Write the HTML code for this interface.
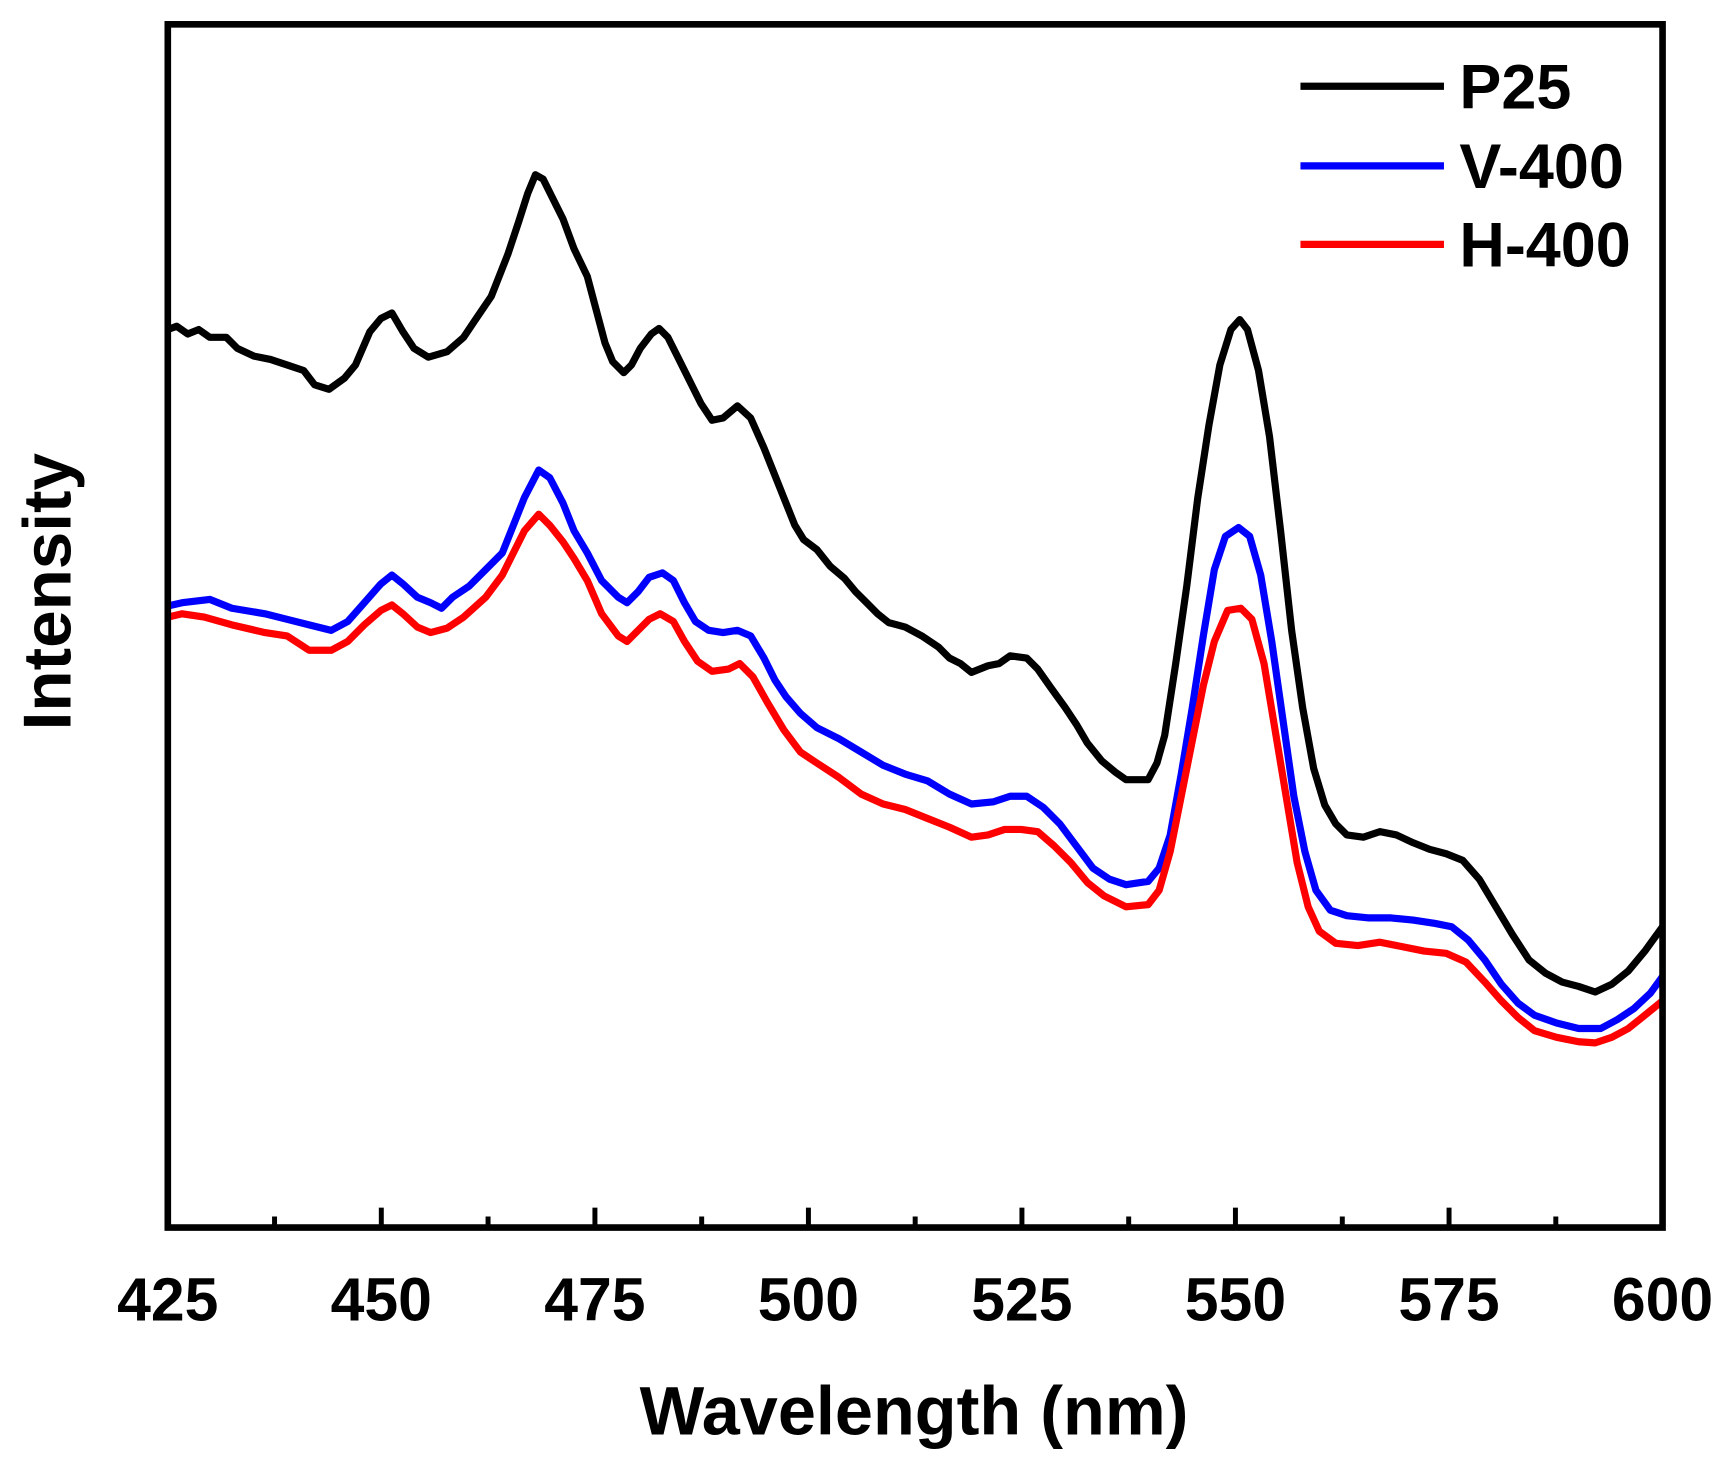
<!DOCTYPE html>
<html><head><style>html,body{margin:0;padding:0;background:#fff}svg{display:block}</style></head><body>
<svg width="1731" height="1462" viewBox="0 0 1568 1322" preserveAspectRatio="none" xmlns="http://www.w3.org/2000/svg" font-family="Liberation Sans, Arial, sans-serif" font-weight="bold">
<rect width="1568" height="1322" fill="#fff"/>
<g fill="none" stroke-width="6.5" stroke-linejoin="round">
<polyline stroke="#000" points="152,298 160,295 170,302 180,298 190,305 205,305 215,315 230,322 245,325 260,330 275,335 285,348 298,352 312,342 322,330 335,300 345,288 355,283 365,300 375,315 388,323 405,318 420,305 430,290 445,268 460,230 470,200 478,175 485,158 492,162 500,178 510,198 520,225 532,250 540,280 548,310 555,327 565,337 572,330 580,315 590,302 597,297 605,305 615,325 625,345 635,365 645,380 655,378 668,367 680,378 692,405 700,425 710,450 720,475 728,488 740,497 752,512 765,523 775,535 785,545 795,555 805,563 820,567 835,575 850,585 860,595 870,600 880,608 895,602 905,600 915,593 930,595 940,605 952,622 965,640 975,655 985,672 998,688 1010,698 1020,705 1030,705 1040,705 1048,690 1055,665 1065,600 1075,530 1085,450 1095,385 1105,330 1115,298 1123,289 1130,298 1140,335 1150,395 1160,480 1170,570 1180,640 1190,695 1200,728 1210,745 1220,755 1235,757 1250,752 1265,755 1280,762 1295,768 1310,772 1325,778 1340,795 1355,820 1370,845 1385,868 1400,880 1415,888 1430,892 1445,897 1460,890 1475,878 1490,860 1506,838"/>
<polyline stroke="#0000ff" points="152,548 165,545 190,542 210,550 240,555 260,560 280,565 300,570 315,562 330,545 345,528 355,520 365,528 378,540 390,545 400,550 410,540 425,530 440,515 455,500 465,475 475,450 488,425 498,432 510,455 520,480 532,500 545,525 560,540 568,545 578,535 588,522 600,518 610,525 620,545 630,562 642,570 655,572 668,570 680,575 692,595 702,615 712,630 725,645 740,658 760,668 780,680 800,692 820,700 840,706 860,718 880,727 900,725 915,720 930,720 945,730 960,745 975,765 990,785 1005,795 1020,800 1040,797 1050,785 1060,755 1070,700 1080,640 1090,575 1100,515 1110,485 1122,477 1132,485 1142,520 1152,580 1162,650 1172,720 1182,770 1192,805 1205,823 1220,828 1240,830 1260,830 1280,832 1300,835 1315,838 1330,850 1345,868 1360,890 1375,907 1390,918 1410,925 1430,930 1450,930 1465,922 1480,912 1495,898 1506,883"/>
<polyline stroke="#ff0000" points="152,558 165,555 185,558 210,565 240,572 260,575 280,588 300,588 315,580 330,565 345,552 355,547 365,555 378,567 390,572 405,568 420,558 440,540 455,520 465,500 475,480 488,465 498,475 510,490 520,505 532,525 545,555 560,575 568,580 578,570 588,560 598,555 610,562 620,580 632,598 645,607 660,605 670,600 682,612 695,635 710,660 725,680 740,690 760,703 780,718 800,727 820,732 840,740 860,748 880,757 895,755 910,750 925,750 940,752 955,765 970,780 985,798 1000,810 1020,820 1040,818 1050,805 1060,770 1070,720 1080,670 1090,620 1100,580 1112,552 1124,550 1134,560 1145,600 1155,660 1165,720 1175,780 1185,820 1195,842 1210,853 1230,855 1250,852 1270,856 1290,860 1310,862 1328,870 1345,888 1360,905 1375,920 1390,932 1410,938 1430,942 1445,943 1460,938 1475,930 1490,918 1506,905"/>
</g>
<rect x="152" y="22" width="1354" height="1088" fill="none" stroke="#000" stroke-width="6"/>
<g stroke="#000" stroke-width="4.5">
<line x1="152" y1="1110" x2="152" y2="1092"/><line x1="345.4" y1="1110" x2="345.4" y2="1092"/><line x1="538.9" y1="1110" x2="538.9" y2="1092"/><line x1="732.3" y1="1110" x2="732.3" y2="1092"/><line x1="925.7" y1="1110" x2="925.7" y2="1092"/><line x1="1119.1" y1="1110" x2="1119.1" y2="1092"/><line x1="1312.6" y1="1110" x2="1312.6" y2="1092"/>
<line x1="248.7" y1="1110" x2="248.7" y2="1100"/><line x1="442.1" y1="1110" x2="442.1" y2="1100"/><line x1="635.6" y1="1110" x2="635.6" y2="1100"/><line x1="829" y1="1110" x2="829" y2="1100"/><line x1="1022.4" y1="1110" x2="1022.4" y2="1100"/><line x1="1215.9" y1="1110" x2="1215.9" y2="1100"/><line x1="1409.3" y1="1110" x2="1409.3" y2="1100"/>
</g>
<g font-size="55" text-anchor="middle">
<text x="152" y="1194">425</text><text x="345.4" y="1194">450</text><text x="538.9" y="1194">475</text><text x="732.3" y="1194">500</text><text x="925.7" y="1194">525</text><text x="1119.1" y="1194">550</text><text x="1312.6" y="1194">575</text><text x="1506" y="1194">600</text>
</g>
<text x="828" y="1297" font-size="62" text-anchor="middle">Wavelength (nm)</text>
<text transform="translate(64,535) rotate(-90)" font-size="61" text-anchor="middle">Intensity</text>
<g stroke-width="6.5">
<line x1="1178" y1="78" x2="1308" y2="78" stroke="#000"/>
<line x1="1178" y1="150" x2="1308" y2="150" stroke="#0000ff"/>
<line x1="1178" y1="221" x2="1308" y2="221" stroke="#ff0000"/>
</g>
<g font-size="57">
<text x="1322" y="98">P25</text><text x="1322" y="170">V-400</text><text x="1322" y="241">H-400</text>
</g>
</svg>
</body></html>
